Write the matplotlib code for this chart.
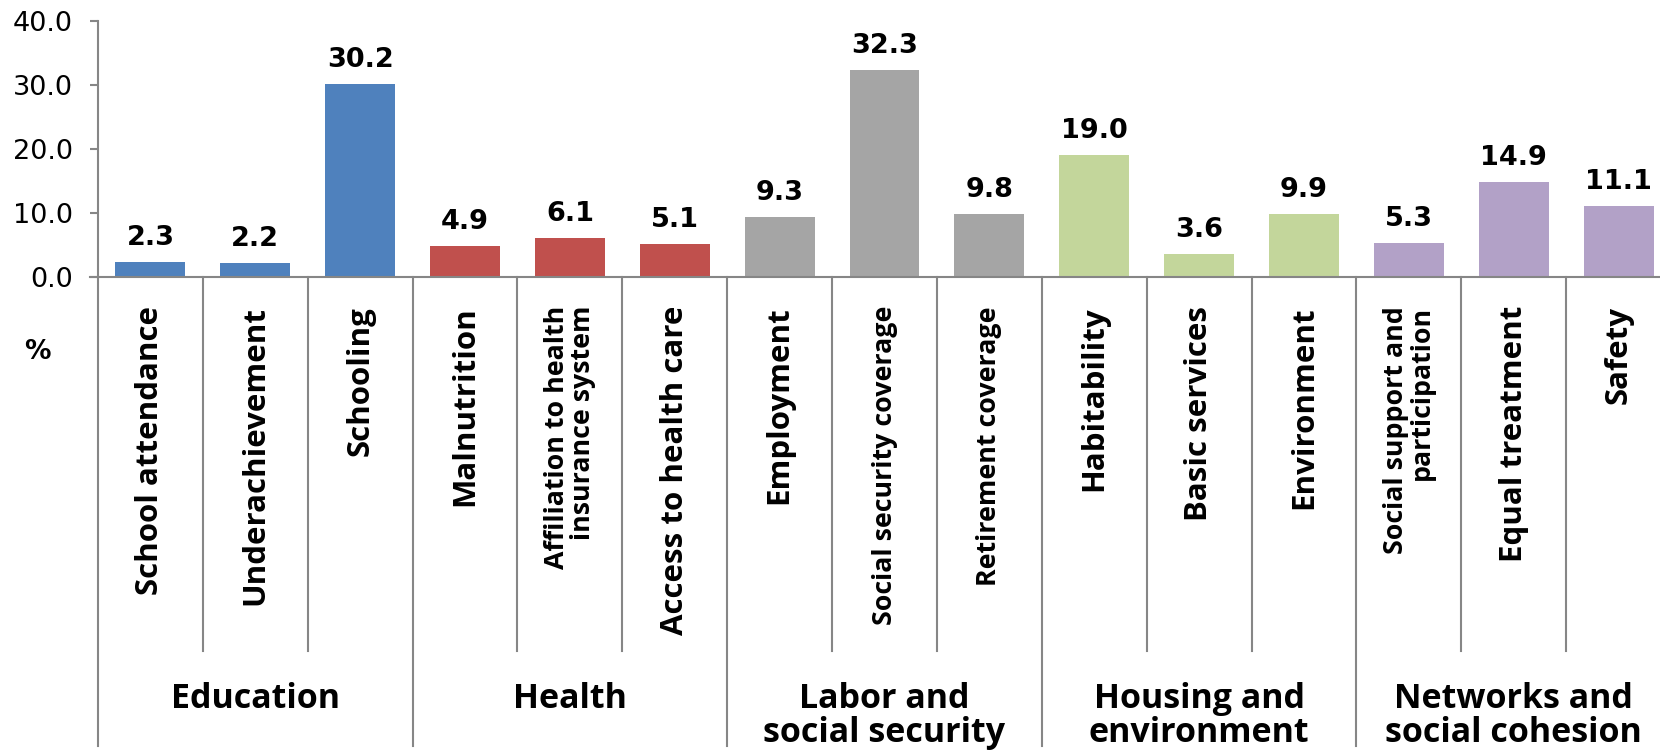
import matplotlib
matplotlib.use('Agg')
import matplotlib.pyplot as plt
import matplotlib.transforms as mtransforms

# data
categories = ['School attendance', 'Underachievement', 'Schooling',
              'Malnutrition', 'Affiliation to health\ninsurance system', 'Access to health care',
              'Employment', 'Social security coverage', 'Retirement coverage',
              'Habitability', 'Basic services', 'Environment',
              'Social support and\nparticipation', 'Equal treatment', 'Safety']
values = [2.3, 2.2, 30.2, 4.9, 6.1, 5.1, 9.3, 32.3, 9.8, 19.0, 3.6, 9.9, 5.3, 14.9, 11.1]
groups = ['Education', 'Health', 'Labor and\nsocial security',
          'Housing and\nenvironment', 'Networks and\nsocial cohesion']
group_sizes = [3, 3, 3, 3, 3]
group_colors = ['#4F81BD', '#C0504D', '#A5A5A5', '#C3D69B', '#B2A1C7']
yticks = [0, 10, 20, 30, 40]

# these labels were shrunk to fit in the original
small_labels = {'Affiliation to health\ninsurance system', 'Social security coverage',
                'Retirement coverage', 'Social support and\nparticipation'}

W, H = 1660, 756
fig = plt.figure(figsize=(W / 100, H / 100), dpi=100)
x0, x1, y0, y1 = 98, 1671, 277, 21   # pixel frame of the plotting area
ax = fig.add_axes([x0 / W, 1 - y0 / H, (x1 - x0) / W, (y0 - y1) / H])

colors = []
for c, n in zip(group_colors, group_sizes):
    colors += [c] * n
xs = list(range(len(values)))
bars = ax.bar(xs, values, width=0.667, color=colors, zorder=2)

for b, v in zip(bars, values):
    ax.annotate(f'{v:.1f}', (b.get_x() + b.get_width() / 2, v),
                xytext=(0, 8), textcoords='offset points',
                ha='center', va='bottom', fontsize=19.5, fontweight='bold',
                family='DejaVu Sans')

ax.set_xlim(-0.5, len(values) - 0.5)
ax.set_ylim(0, 40)
ax.set_yticks(yticks)
ax.set_yticklabels([f'{t:.1f}' for t in yticks], fontsize=19.5, family='DejaVu Sans')
ax.tick_params(axis='y', direction='out', length=6, width=1.5, color='#868686', pad=12)
ax.tick_params(axis='x', length=0, labelbottom=False)
for s in ['top', 'right']:
    ax.spines[s].set_visible(False)
for s in ['left', 'bottom']:
    ax.spines[s].set_color('#868686')
    ax.spines[s].set_linewidth(1.5)
# extend the zero line a bit to the left like the tick
ax.plot([-0.5 - 8 / 104.9, -0.5], [0, 0], color='#868686', lw=1.5, clip_on=False)

trans = mtransforms.blended_transform_factory(ax.transData, fig.transFigure)

# separators under the axis
bounds = []
pos = 0
for n in group_sizes:
    bounds.append(pos)
    pos += n
bounds.append(pos)
for i in range(len(values) + 1):
    b = i - 0.5
    bottom = 746 if i in bounds else 651
    ax.plot([b, b], [1 - y0 / H, 1 - bottom / H], color='#868686', lw=1.5,
            transform=trans, clip_on=False)

# rotated category labels (Calibri-like face in the original)
for i, lab in enumerate(categories):
    fs = 19.3 if lab in small_labels else 22.5
    ax.text(i, 1 - 306 / H, lab, rotation=90, ha='center', va='top',
            multialignment='right', fontweight='bold', family='Open Sans',
            fontsize=fs, linespacing=1.0, transform=trans)

# group labels
start = 0
for g, n in zip(groups, group_sizes):
    cx = start + (n - 1) / 2
    yc = 716 if '\n' in g else 699
    ax.text(cx, 1 - yc / H, g, ha='center', va='center', fontsize=24.5,
            fontweight='bold', family='Open Sans', transform=trans,
            linespacing=1.0)
    start += n

fig.text(37 / W, 1 - 352 / H, '%', ha='center', va='center', fontsize=19,
         fontweight='bold', family='DejaVu Sans')

fig.savefig('out.png', dpi=100)
